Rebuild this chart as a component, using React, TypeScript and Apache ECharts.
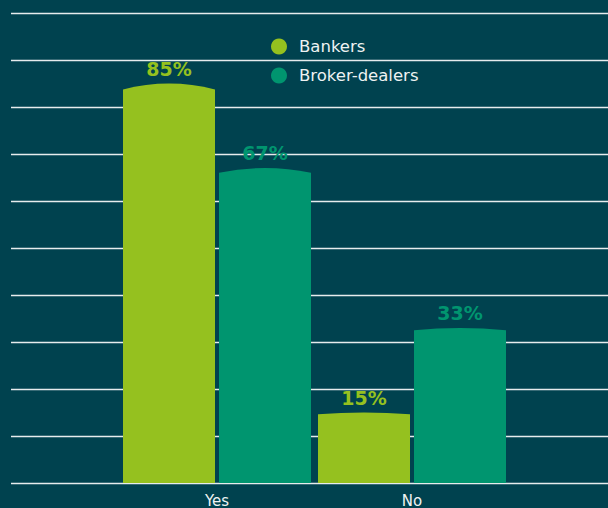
import React, { useEffect, useRef } from "react";
import * as echarts from "echarts";

const categories = ["Yes", "No"];
const bankers = [85, 15];
const brokerDealers = [67, 33];
const seriesNames = ["Bankers", "Broker-dealers"];

const BG = "#00424f";
const GREEN = "#95c11f";
const TEAL = "#00956f";
const GRID = "#e6eced";
const FONT = "DejaVu Sans";

function makeRender(offsetRatio: number, color: string) {
  return (params: any, api: any) => {
    const cat = api.value(0);
    const val = api.value(1);
    const top = api.coord([cat, val]);
    const base = api.coord([cat, 0]);
    const band = api.size([1, 0])[0];
    const w = (band * 92) / 195;
    const cx = top[0] + offsetRatio * band;
    const x0 = cx - w / 2;
    const x1 = cx + w / 2;
    const h = base[1] - top[1];
    const bulge = Math.max(1.7, h * 0.015);
    const yc = top[1] + bulge;
    const ctrl = top[1] - bulge;
    const d = `M${x0} ${base[1]} L${x0} ${yc} Q${cx} ${ctrl} ${x1} ${yc} L${x1} ${base[1]} Z`;
    return {
      type: "group",
      children: [
        {
          type: "path",
          shape: { pathData: d },
          style: { fill: color },
        },
        {
          type: "text",
          style: {
            x: cx,
            y: top[1] - 15,
            text: val + "%",
            fill: color,
            font: `bold 19px "${FONT}"`,
            align: "center",
            verticalAlign: "middle",
          },
        },
      ],
    };
  };
}

export default function App() {
  const ref = useRef<HTMLDivElement>(null);
  useEffect(() => {
    document.body.style.margin = "0";
    const chart = echarts.init(ref.current!, null, { renderer: "svg" });
    const top = 13;
    const bottom = 25;
    chart.setOption({
      animation: false,
      backgroundColor: BG,
      textStyle: { fontFamily: FONT },
      legend: {
        orient: "vertical",
        left: 271,
        top: 38,
        padding: 0,
        itemWidth: 16,
        itemHeight: 16,
        itemGap: 12,
        icon: "circle",
        data: seriesNames,
        textStyle: {
          color: "#eef2f2",
          fontSize: 16.5,
          fontFamily: FONT,
          padding: [0, 0, 0, 7],
        },
      },
      grid: [
        { left: 11, right: 0, top, bottom },
        { left: 119.5, width: 390, top, bottom },
      ],
      xAxis: [
        { gridIndex: 0, type: "value", min: 0, max: 1, show: false },
        {
          gridIndex: 1,
          type: "category",
          data: categories,
          axisLine: { show: false },
          axisTick: { show: false },
          axisLabel: {
            color: "#eef2f2",
            fontSize: 15,
            fontFamily: FONT,
            margin: 10,
          },
        },
      ],
      yAxis: [
        {
          gridIndex: 0,
          type: "value",
          min: 0,
          max: 100,
          interval: 10,
          axisLine: { show: false },
          axisTick: { show: false },
          axisLabel: { show: false },
          splitLine: { show: true, lineStyle: { color: GRID, width: 1.3 } },
        },
        {
          gridIndex: 1,
          type: "value",
          min: 0,
          max: 100,
          interval: 10,
          show: false,
          splitLine: { show: false },
        },
      ],
      series: [
        {
          name: seriesNames[0],
          type: "custom",
          xAxisIndex: 1,
          yAxisIndex: 1,
          itemStyle: { color: GREEN },
          encode: { x: 0, y: 1 },
          data: categories.map((_, i) => [i, bankers[i]]),
          renderItem: makeRender(-48 / 195, GREEN),
        },
        {
          name: seriesNames[1],
          type: "custom",
          xAxisIndex: 1,
          yAxisIndex: 1,
          itemStyle: { color: TEAL },
          encode: { x: 0, y: 1 },
          data: categories.map((_, i) => [i, brokerDealers[i]]),
          renderItem: makeRender(48 / 195, TEAL),
        },
      ],
    });
    return () => chart.dispose();
  }, []);
  return <div ref={ref} style={{ width: 608, height: 508 }} />;
}
